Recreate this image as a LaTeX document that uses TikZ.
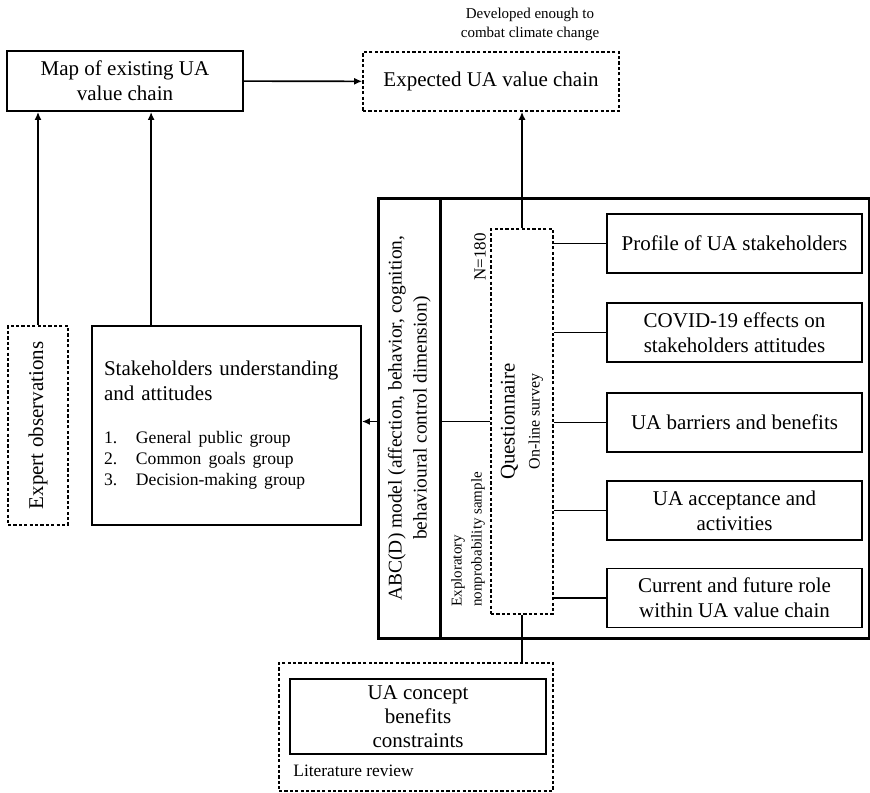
\documentclass[tikz,border=0pt]{standalone}
\usepackage{fontspec}
\setmainfont{Liberation Serif}
\usetikzlibrary{positioning,calc,arrows.meta}

\newcommand{\setfs}[2]{\fontsize{#1}{#2}\selectfont}

\begin{document}
\begin{tikzpicture}[x=0.5pt,y=-0.5pt,>={Latex[length=4pt,width=3.5pt]},
    box/.style={draw,line width=0.9pt,inner sep=0pt,align=center,font=\setfs{10.5}{12.5}},
    dbox/.style={box,line width=0.8pt,dash pattern=on 1.6pt off 1.1pt},
    frame/.style={draw,line width=1.5pt,inner sep=0pt},
    link/.style={line width=0.8pt}]
        \useasboundingbox (0,0) rectangle (870,792);
        % top row
        \node[box,minimum width=118pt,minimum height=30pt] (map) at (125,81) {Map of existing UA\\value chain};
        \node[dbox,minimum width=128pt,minimum height=29.5pt] (expected) at (491,81.5) {Expected UA value chain};
        \node[align=center,inner sep=0pt,font=\setfs{7.5}{9.5}] (goal) at (530,24) {Developed enough to\\combat climate change};
        % survey block
        \node[frame,minimum width=245.5pt,minimum height=220pt] (outer) at (623.5,418) {};
        \node[frame,minimum width=31pt,minimum height=220pt] (abc) at (409,418)
            {\rotatebox{90}{\setfs{9.7}{12.5}\begin{tabular}{@{}c@{}}ABC(D) model (affection, behavior, cognition,\\behavioural control dimension)\end{tabular}}};
        \node[dbox,minimum width=31pt,minimum height=192.5pt] (quest) at (522,421.5)
            {\rotatebox{90}{\setfs{10.4}{12.5}\begin{tabular}{@{}c@{}}Questionnaire\\{\setfs{8}{10}On-line survey}\end{tabular}}};
        \node[rotate=90,inner sep=0pt,font=\setfs{8.5}{10}] (size) at (480,257) {N=180};
        \node[rotate=90,anchor=west,align=left,inner sep=0pt,font=\setfs{7.5}{10}] (sample) at (468,607) {Exploratory\\nonprobability sample};
        % survey topics
        \foreach \name/\ypos/\txt in {profile/243.5/{Profile of UA stakeholders},
                covid/332.5/{COVID-19 effects on\\stakeholders attitudes},
                barriers/422.5/{UA barriers and benefits},
                accept/510.5/{UA acceptance and\\activities},
                role/598/{Current and future role\\within UA value chain}}{
            \node[box,minimum width=127.5pt,minimum height=29.5pt] (\name) at (734.5,\ypos) {\txt};
            \draw[link] (\name.west) -- (\name.west -| quest.east);
        }
        % left side
        \node[box,minimum width=134.5pt,minimum height=99.5pt,text width=122.5pt,align=left] (stake) at (226.5,425.5)
            {Stakeholders understanding\\and attitudes\par\vspace{11pt}
             {\setfs{8.8}{10.5}\makebox[16pt][l]{1.}General public group\\
              \makebox[16pt][l]{2.}Common goals group\\
              \makebox[16pt][l]{3.}Decision-making group\par}};
        \coordinate (stakeup) at ($(stake.north west)+(60,0)$);
        \node[dbox,minimum width=30pt,minimum height=99.5pt] (expert) at (38,425.5) {\rotatebox{90}{Expert observations}};
        % literature
        \node[dbox,minimum width=137pt,minimum height=64pt] (lit) at (416,727) {};
        \node[box,minimum width=128pt,minimum height=37.5pt,font=\setfs{10.5}{12}] (concept) at (418,716.5) {UA concept\\benefits\\constraints};
        \node[anchor=west,inner sep=0pt,font=\setfs{8.7}{10}] (litname) at (293,771) {Literature review};

        \draw[link,->] (map) -- (expected);
        \draw[link,->] (expert.north) -- (expert.north |- map.south);
        \draw[link,->] (stakeup) -- (stakeup |- map.south);
        \draw[link,->] (quest.north) -- (quest.north |- expected.south);
        \draw[link] (quest.west) -- (quest.west -| abc.east);
        \draw[link,->] (abc.west |- quest.west) -- (stake.east |- quest.west);
        \draw[link] (quest.south) -- (quest.south |- lit.north);
    \end{tikzpicture}
\end{document}
